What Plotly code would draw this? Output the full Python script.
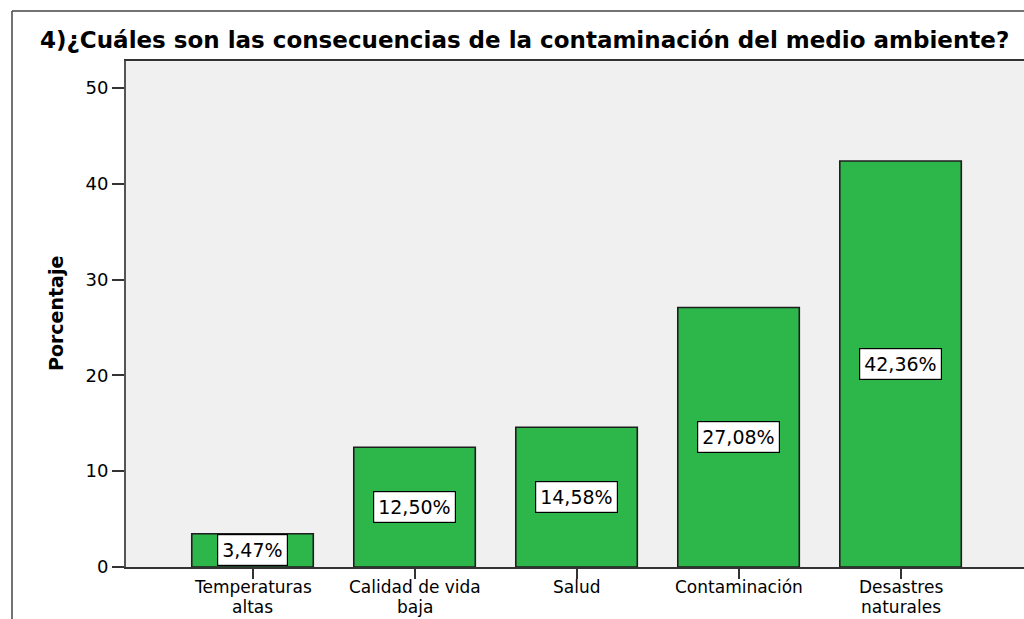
import plotly.graph_objects as go

categories = ["Temperaturas altas", "Calidad de vida baja", "Salud", "Contaminación", "Desastres naturales"]
tick_lines = [["Temperaturas", "altas"], ["Calidad de vida", "baja"], ["Salud"], ["Contaminación"], ["Desastres", "naturales"]]
values = [3.47, 12.50, 14.58, 27.08, 42.36]
value_labels = ["3,47%", "12,50%", "14,58%", "27,08%", "42,36%"]
y_ticks = [0, 10, 20, 30, 40, 50]
title_text = "4)¿Cuáles son las consecuencias de la contaminación del medio ambiente?"
y_title = "Porcentaje"

W, H = 1024, 619
L, R, T, B = 126, 0, 61, 52
FONT = "DejaVu Sans"

fig = go.Figure()
fig.add_trace(go.Bar(
    x=categories, y=values, width=0.75,
    marker=dict(color="rgb(45,183,75)", line=dict(color="#1e1e1e", width=1.6)),
    hoverinfo="skip",
))

annotations = []
for c, v, t in zip(categories, values, value_labels):
    annotations.append(dict(
        x=c, y=v / 2, xref="x", yref="y", text=t, showarrow=False,
        font=dict(family=FONT, size=19, color="black"),
        bgcolor="white", bordercolor="black", borderwidth=1.2, borderpad=4,
    ))
for c, lines in zip(categories, tick_lines):
    for k, line in enumerate(lines):
        annotations.append(dict(
            x=c, y=0, xref="x", yref="y", text=line, showarrow=False,
            yanchor="top", yshift=-8 - 20 * k,
            font=dict(family=FONT, size=17, color="black"),
        ))
pw = W - L - R
ph = H - T - B
annotations.append(dict(
    x=(56 - L) / pw, y=0.5, xref="paper", yref="paper", text="<b>" + y_title + "</b>",
    textangle=-90, showarrow=False, xanchor="center", yanchor="middle",
    font=dict(family=FONT, size=19, color="black"),
))

shapes = [
    dict(type="line", xref="paper", yref="paper",
         x0=(12 - L) / pw, x1=(12 - L) / pw, y0=(H - B - 11) / ph, y1=-0.3,
         line=dict(color="#444", width=1.5)),
    dict(type="line", xref="paper", yref="paper",
         x0=(12 - L) / pw, x1=1.05, y0=(H - B - 11) / ph, y1=(H - B - 11) / ph,
         line=dict(color="#444", width=1.5)),
]

fig.update_layout(
    width=W, height=H,
    margin=dict(l=L, r=R, t=T, b=B),
    paper_bgcolor="white", plot_bgcolor="#F0F0F0",
    showlegend=False,
    title=dict(text="<b>" + title_text + "</b>", x=40 / W, xanchor="left", xref="container",
               y=1 - 40 / H, yanchor="middle", yref="container",
               font=dict(family=FONT, size=23, color="black")),
    annotations=annotations, shapes=shapes,
    bargap=0.25,
)
fig.update_xaxes(
    range=[-0.781, 4.762], showticklabels=False, ticks="outside", ticklen=10, tickwidth=1.5,
    tickcolor="#333", showline=True, linecolor="#333", linewidth=2, mirror=True,
    showgrid=False, zeroline=False, fixedrange=True,
)
fig.update_yaxes(
    range=[0, 52.8], tickvals=y_ticks, ticks="outside", ticklen=12, tickwidth=1.5, tickcolor="#333",
    tickfont=dict(family=FONT, size=18, color="black"),
    showline=True, linecolor="#555", linewidth=2, showgrid=False, zeroline=False, fixedrange=True,
)

fig.write_html("out.html", config={"displayModeBar": False},
               post_script="document.body.style.margin='0';document.body.style.overflow='hidden';")
